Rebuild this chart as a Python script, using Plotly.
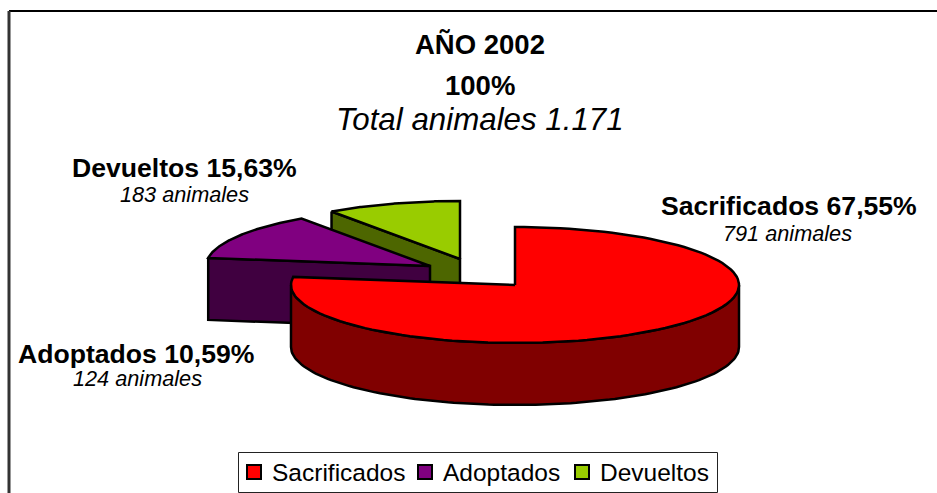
import numpy as np
import plotly.graph_objects as go

# ---- data ----
categories = ["Sacrificados", "Adoptados", "Devueltos"]
animals = [791, 124, 183]
percent_labels = ["67,55%", "10,59%", "15,63%"]
title_lines = ["AÑO 2002", "100%", "Total animales 1.171"]
top_colors = ["#FF0000", "#800080", "#99CC00"]
wall_colors = ["#800000", "#400040", "#4D6600"]

# ---- projection of the tilted, exploded pie (pixel-like scene units) ----
RX, RY, DEPTH = 224, 58, 62
centers = [(515, 285), (430, 266), (460, 259)]
# The source program's 3-D view distorts angles: data angle -> drawn angle
WARP_IN = [0, 259.3, 300, 360]
WARP_OUT = [0, 278, 325, 360]


def warp(deg):
    return np.interp(deg, WARP_IN, WARP_OUT)


def rim(center, a0, a1, n=120):
    t = np.radians(np.linspace(a0, a1, n))
    return center[0] + RX * np.sin(t), center[1] - RY * np.cos(t)


shares = np.array(animals) / sum(animals) * 360
edges = np.concatenate([[0], np.cumsum(shares)])

fig = go.Figure()


def poly(xs, ys, fill):
    fig.add_trace(go.Scatter(x=list(xs), y=list(ys), mode="lines", fill="toself",
                             fillcolor=fill, line=dict(color="black", width=2.5),
                             hoverinfo="skip", showlegend=False))


# painter's order: back slice first
for i in [2, 1, 0]:
    a0, a1 = warp(edges[i]), warp(edges[i + 1])
    c = centers[i]
    ax, ay = rim(c, a0, a1)
    if i == 0:
        # curved front wall of the big slice
        wx, wy = rim(c, 90, 270)
        poly(np.r_[wx, wx[::-1], wx[0]], np.r_[wy, wy[::-1] + DEPTH, wy[0]], wall_colors[i])
    else:
        # flat cut face of the slice, towards the viewer
        ex, ey = ax[0], ay[0]
        poly([ex, c[0], c[0], ex, ex], [ey, c[1], c[1] + DEPTH, ey + DEPTH, ey], wall_colors[i])
    poly(np.r_[c[0], ax, c[0]], np.r_[c[1], ay, c[1]], top_colors[i])

FONT = "Liberation Sans, Arial, sans-serif"


def text(x, y, s, size, bold=False, italic=False, anchor="center"):
    fig.add_annotation(x=x, y=y, text=s, showarrow=False, xanchor=anchor, yanchor="middle",
                       font=dict(family=FONT, size=size, color="black",
                                 weight="bold" if bold else "normal",
                                 style="italic" if italic else "normal"))


text(480, 44, title_lines[0], 27.5, bold=True)
text(480, 85, title_lines[1], 27.5, bold=True)
text(480, 119, title_lines[2], 31.3, italic=True)

label_pos = [((789, 206), (787, 233)), ((136, 354), (137, 378)), ((184, 168), (184, 194))]
for name, n, pct, (p1, p2) in zip(categories, animals, percent_labels, label_pos):
    text(p1[0], p1[1], f"{name} {pct}", 26.6, bold=True)
    text(p2[0], p2[1], f"{n} animales", 21.7, italic=True)

# legend box, drawn to the reference's tight spacing
swatch_x = [254, 425, 582]
LEGEND_Y = 472
fig.add_trace(go.Scatter(x=swatch_x, y=[LEGEND_Y] * 3, mode="markers", showlegend=False,
                         hoverinfo="skip",
                         marker=dict(symbol="square", size=14, color=top_colors,
                                     line=dict(color="black", width=2))))
for sx, name in zip(swatch_x, categories):
    text(sx + 16, LEGEND_Y, name, 24.5, anchor="left")

fig.update_layout(
    width=937, height=493, margin=dict(l=0, r=0, t=0, b=0),
    paper_bgcolor="white", plot_bgcolor="white", showlegend=False,
    xaxis=dict(range=[0, 937], visible=False, fixedrange=True),
    yaxis=dict(range=[493, 0], visible=False, fixedrange=True),
    shapes=[
        dict(type="line", xref="x", yref="y", x0=9, y0=11, x1=937, y1=11,
             line=dict(color="black", width=2), layer="below"),
        dict(type="line", xref="x", yref="y", x0=9, y0=11, x1=9, y1=493,
             line=dict(color="#333333", width=3), layer="below"),
        dict(type="rect", xref="x", yref="y", x0=238.5, y0=452.5, x1=717.5, y1=492.5,
             line=dict(color="#222222", width=1), fillcolor="white", layer="below"),
    ],
)
fig.write_html("out.html", config={"displayModeBar": False},
               post_script="document.body.style.margin='0';")
